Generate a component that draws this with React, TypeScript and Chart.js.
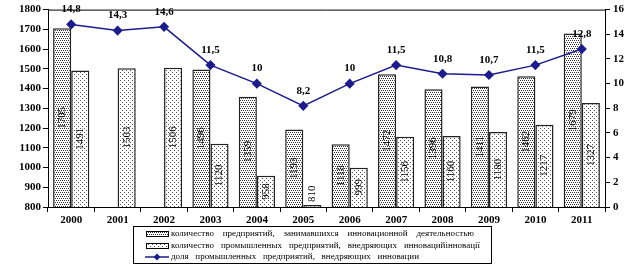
import { useEffect, useRef } from 'react';
import { Chart, registerables } from 'chart.js';

Chart.register(...registerables);

const years = ['2000', '2001', '2002', '2003', '2004', '2005', '2006', '2007', '2008', '2009', '2010', '2011'];
const innovEnterprises: (number | null)[] = [1705, null, null, 1496, 1359, 1193, 1118, 1472, 1396, 1411, 1462, 1679];
const industrialInnov: number[] = [1491, 1503, 1506, 1120, 958, 810, 999, 1156, 1160, 1180, 1217, 1327];
const industrialShare: number[] = [14.8, 14.3, 14.6, 11.5, 10, 8.2, 10, 11.5, 10.8, 10.7, 11.5, 12.8];
const legendLabels = [
  'количество предприятий, занимавшихся инновационной деятельностью',
  'количество промышленных предприятий, внедряющих инновацийінновації',
  'доля промышленных предприятий, внедряющих инновации',
];

const SERIF = '"Liberation Serif", "Times New Roman", serif';
const LINE_COLOR = '#1c1c8e';

function makePattern(size: number, dots: [number, number][], color: string) {
  const c = document.createElement('canvas');
  c.width = size;
  c.height = size;
  const g = c.getContext('2d')!;
  g.fillStyle = '#ffffff';
  g.fillRect(0, 0, size, size);
  g.fillStyle = color;
  dots.forEach(([x, y]) => g.fillRect(x, y, 1, 1));
  return g.createPattern(c, 'repeat')!;
}

export default function App() {
  const ref = useRef<HTMLCanvasElement>(null);

  useEffect(() => {
    const canvas = ref.current!;
    const pat1 = makePattern(4, [[0, 0], [2, 0], [1, 2], [3, 2]], '#333333');
    const pat2 = makePattern(4, [[0, 0], [2, 2]], '#555555');

    const labelPlugin = {
      id: 'labels',
      afterDatasetsDraw(chart: any) {
        const ctx = chart.ctx as CanvasRenderingContext2D;
        const bottom = chart.chartArea.bottom;
        ctx.save();
        ctx.fillStyle = '#000';
        ctx.font = `11px ${SERIF}`;
        [0, 1].forEach((di) => {
          const meta = chart.getDatasetMeta(di);
          const data = chart.data.datasets[di].data;
          meta.data.forEach((el: any, j: number) => {
            const v = data[j];
            if (v === null || v === undefined) return;
            const x = el.x;
            const y = el.y;
            const text = String(v);
            const w = ctx.measureText(text).width;
            const h = bottom - y;
            const cy = h > w + 6 ? (y + bottom) / 2 : y - w / 2 - 3;
            ctx.save();
            ctx.translate(x, cy);
            ctx.rotate(-Math.PI / 2);
            ctx.textAlign = 'center';
            ctx.textBaseline = 'middle';
            ctx.fillText(text, 0, 0);
            ctx.restore();
          });
        });
        const lmeta = chart.getDatasetMeta(2);
        ctx.font = `bold 11px ${SERIF}`;
        ctx.textAlign = 'center';
        ctx.textBaseline = 'middle';
        lmeta.data.forEach((el: any, j: number) => {
          const v = industrialShare[j];
          const text = String(v).replace('.', ',');
          ctx.fillText(text, el.x, el.y - 15);
        });
        ctx.restore();
      },
      afterDraw(chart: any) {
        const ctx = chart.ctx as CanvasRenderingContext2D;
        const a = chart.chartArea;
        ctx.save();
        ctx.strokeStyle = '#000';
        ctx.lineWidth = 1;
        ctx.beginPath();
        ctx.moveTo(a.left, a.top + 0.5);
        ctx.lineTo(a.right, a.top + 0.5);
        ctx.stroke();

        // legend box
        const bx = 133, by = 226, bw = 358, bh = 37;
        ctx.lineWidth = 1;
        ctx.strokeRect(bx + 0.5, by + 0.5, bw, bh);
        const rows = [234, 246, 257];
        const ends = [474, 480, 419];
        const textX = 171;
        ctx.font = `9px ${SERIF}`;
        ctx.textBaseline = 'middle';
        ctx.textAlign = 'left';
        ctx.fillStyle = '#000';
        rows.forEach((ry, i) => {
          if (i < 2) {
            ctx.fillStyle = i === 0 ? pat1 : pat2;
            ctx.fillRect(146, ry - 2.5, 22, 5);
            ctx.strokeStyle = '#000';
            ctx.lineWidth = 1;
            ctx.strokeRect(146.5, ry - 2.5, 22, 5);
          } else {
            ctx.strokeStyle = LINE_COLOR;
            ctx.lineWidth = 1.5;
            ctx.beginPath();
            ctx.moveTo(145, ry);
            ctx.lineTo(169, ry);
            ctx.stroke();
            ctx.fillStyle = LINE_COLOR;
            ctx.beginPath();
            ctx.moveTo(157, ry - 3.5);
            ctx.lineTo(160.5, ry);
            ctx.lineTo(157, ry + 3.5);
            ctx.lineTo(153.5, ry);
            ctx.closePath();
            ctx.fill();
          }
          ctx.fillStyle = '#000';
          const words = legendLabels[i].split(' ');
          const widths = words.map((w) => ctx.measureText(w).width);
          const total = widths.reduce((s, w) => s + w, 0);
          const gap = Math.max(2.5, (ends[i] - textX - total) / (words.length - 1));
          let cx = textX;
          words.forEach((w, k) => {
            ctx.fillText(w, cx, ry);
            cx += widths[k] + gap;
          });
        });
        ctx.restore();
      },
    };

    const chart = new Chart(canvas, {
      type: 'bar',
      data: {
        labels: years,
        datasets: [
          {
            type: 'bar',
            label: legendLabels[0],
            data: innovEnterprises,
            backgroundColor: pat1,
            borderColor: '#222',
            borderWidth: 1.5,
            yAxisID: 'y',
            order: 1,
            barPercentage: 1,
            categoryPercentage: 0.78,
          },
          {
            type: 'bar',
            label: legendLabels[1],
            data: industrialInnov,
            backgroundColor: pat2,
            borderColor: '#222',
            borderWidth: 1.5,
            yAxisID: 'y',
            order: 2,
            barPercentage: 1,
            categoryPercentage: 0.78,
          },
          {
            type: 'line',
            label: legendLabels[2],
            data: industrialShare,
            borderColor: LINE_COLOR,
            backgroundColor: LINE_COLOR,
            borderWidth: 1.5,
            pointStyle: 'rectRot',
            pointRadius: 4,
            pointBackgroundColor: LINE_COLOR,
            pointBorderColor: LINE_COLOR,
            yAxisID: 'y1',
            order: 0,
          } as any,
        ],
      },
      options: {
        responsive: false,
        animation: false,
        devicePixelRatio: 1,
        layout: { padding: { top: 9, left: 0, right: 0, bottom: 0 } },
        plugins: { legend: { display: false }, tooltip: { enabled: false } },
        scales: {
          x: {
            offset: true,
            grid: { display: true, offset: true, drawOnChartArea: false, drawTicks: true, tickLength: 5, color: '#000' },
            border: { display: true, color: '#000', width: 1 },
            ticks: { color: '#000', font: { family: SERIF, size: 11, weight: 'bold' }, maxRotation: 0, padding: 2 },
            afterFit: (s: any) => { s.height = 58; },
          },
          y: {
            position: 'left',
            min: 800,
            max: 1800,
            ticks: {
              stepSize: 100,
              color: '#000',
              font: { family: SERIF, size: 11, weight: 'bold' },
              padding: 2,
              callback: (v: any) => String(v),
            },
            grid: { display: true, drawOnChartArea: false, drawTicks: true, tickLength: 5, color: '#000' },
            border: { display: true, color: '#000', width: 1 },
            afterFit: (s: any) => { s.width = 48; },
          },
          y1: {
            position: 'right',
            min: 0,
            max: 16,
            ticks: {
              stepSize: 2,
              color: '#000',
              font: { family: SERIF, size: 11, weight: 'bold' },
              padding: 3,
              callback: (v: any) => String(v),
            },
            grid: { display: true, drawOnChartArea: false, drawTicks: true, tickLength: 5, color: '#000' },
            border: { display: true, color: '#000', width: 1 },
            afterFit: (s: any) => { s.width = 34; },
          },
        },
      },
      plugins: [labelPlugin],
    });
    return () => chart.destroy();
  }, []);

  return (
    <div style={{ position: 'absolute', left: 0, top: 0, width: 639, height: 265, background: '#fff' }}>
      <canvas ref={ref} width={639} height={265} style={{ display: 'block' }} />
    </div>
  );
}
